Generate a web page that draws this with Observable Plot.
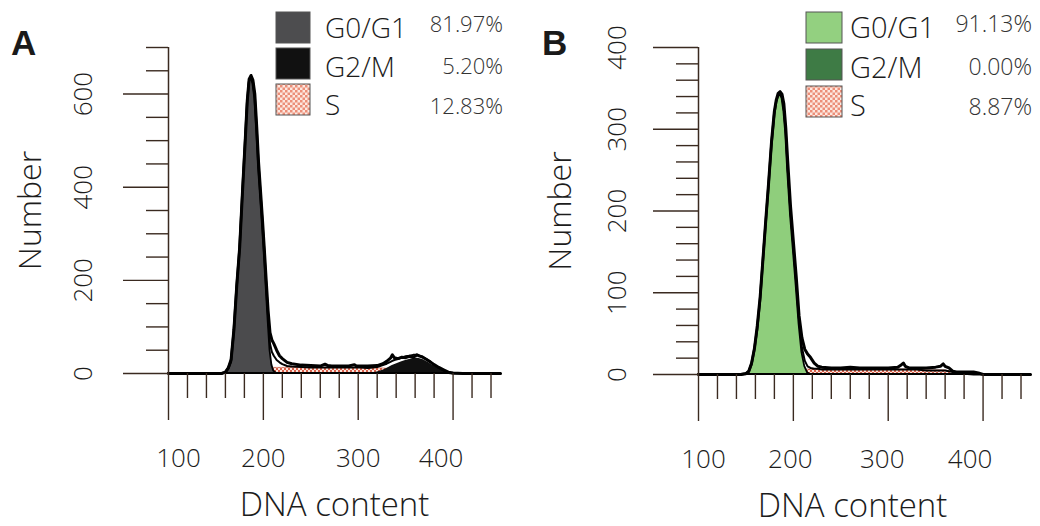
<!DOCTYPE html>
<html><head><meta charset="utf-8">
<script src="https://cdn.jsdelivr.net/npm/d3@7"></script>
<script src="https://cdn.jsdelivr.net/npm/@observablehq/plot@0.6"></script>
<style>
body{margin:0;background:#fff;}
#wrap{position:relative;width:1040px;height:526px;overflow:hidden;}
#wrap .panel{position:absolute;top:0;}
</style></head>
<body><div id="wrap"></div>
<script>
// ---------- data ----------
const phaseLabels = ["G0/G1", "G2/M", "S"];
const pctA = ["81.97%", "5.20%", "12.83%"];
const pctB = ["91.13%", "0.00%", "8.87%"];
const xTickMajor = [100, 200, 300, 400];
const xTickMinor = [120, 140, 160, 180, 220, 240, 260, 280, 320, 340, 360, 380, 420, 440];
const yTickMajorA = [0, 200, 400, 600];
const yTickMinorA = [50, 100, 150, 250, 300, 350, 450, 500, 550, 650, 700];
const yTickMajorB = [0, 100, 200, 300, 400];
const yTickMinorB = [20, 40, 60, 80, 120, 140, 160, 180, 220, 240, 260, 280, 320, 340, 360, 380];

// Panel A: DNA content channel and counts
const xsA  = [100,150,156,160,163,166,169,172,175,178,181,183,185,187,189,191,193,195,197,199,201,203,205,207,209,211,214,217,220,225,230,240,250,260,265,268,272,280,290,296,298,302,310,320,326,330,334,336,338,342,346,350,354,358,362,364,368,372,376,380,385,390,395,400,410,450];
const g1A  = [0,0,0,2,10,25,90,185,265,385,500,578,625,634,622,590,520,440,380,320,255,185,115,50,18,5,0,0,0,0,0,0,0,0,0,0,0,0,0,0,0,0,0,0,0,0,0,0,0,0,0,0,0,0,0,0,0,0,0,0,0,0,0,0,0,0];
const sA   = [0,0,0,0,0,0,0,0,0,1,2,3,4,5,6,7,8,8,9,10,10,11,11,11,12,12,12,12,12,12,12,12,12,12,12,12,12,12,12,12,12,12,11,11,11,10,10,10,10,9,9,9,8,8,7,7,6,5,4,3,2,1,0,0,0,0];
const g2A  = [0,0,0,0,0,0,0,0,0,0,0,0,0,0,0,0,0,0,0,0,0,0,0,0,0,0,0,0,0,0,0,0,0,0,0,0,0,0,0,0,0,0,0,3,7,11,15,17,19,22,25,28,30,32,33,32,30,26,21,16,10,5,1,0,0,0];
const fitA = [0,0,0,2,10,25,90,185,265,386,502,581,629,639,628,597,528,448,389,330,265,196,126,64,46,38,29,24,20,16,15,14,13,13,13,13,13,13,13,13,13,13,12,14,18,21,25,27,29,31,34,37,38,40,40,39,36,31,25,19,12,6,1,0,0,0];
const datA = [0,0,0,3,12,30,95,190,270,390,505,585,632,640,630,600,530,452,392,332,268,200,135,88,72,64,50,38,32,24,21,18,17,16,20,17,16,16,16,19,16,16,16,17,21,26,33,40,34,32,35,34,37,35,40,38,35,30,25,19,13,8,3,1,0,0];

// Panel B
const xsB  = [100,145,150,153,156,159,162,165,168,171,174,177,180,182,184,186,188,190,192,194,197,200,203,206,209,212,215,218,222,226,230,240,250,260,270,280,290,300,310,314,316,318,322,330,340,350,355,358,360,364,368,372,380,390,395,400,450];
const g1B  = [0,0,1,3,12,30,55,90,138,185,231,280,318,332,340,342,338,322,295,250,195,152,108,62,27,10,2,0,0,0,0,0,0,0,0,0,0,0,0,0,0,0,0,0,0,0,0,0,0,0,0,0,0,0,0,0,0];
const sB   = [0,0,0,0,0,0,0,0,0,0,0,0,0,0,1,1,2,2,3,3,4,5,5,5,5,6,6,6,6,6,6,6,6,6,6,6,6,6,6,6,6,6,6,6,5,5,5,5,5,4,3,2,1,0,0,0,0];
const g2B  = [0,0,0,0,0,0,0,0,0,0,0,0,0,0,0,0,0,0,0,0,0,0,0,0,0,0,0,0,0,0,0,0,0,0,0,0,0,0,0,0,0,0,0,0,0,0,0,0,0,0,0,0,0,0,0,0,0];
const fitB = [0,0,1,3,12,30,55,90,138,185,231,280,318,333,341,343,340,324,298,253,199,157,113,67,33,17,10,8,7,7,6,6,6,6,6,6,6,6,6,6,6,6,6,6,5,5,5,5,5,4,3,2,1,0,0,0,0];
const datB = [0,0,1,4,14,32,60,95,142,190,236,285,322,336,344,346,343,331,302,262,206,163,120,72,45,31,25,21,14,10,9,8,8,9,8,8,8,8,9,12,14,10,8,8,8,9,10,13,10,8,4,3,3,3,2,0,0];

// ---------- drawing ----------
const INK = "#1c1c1c";
const TICK = "#3a2a20";
const FONT = "'Open Sans', sans-serif";

function panel(cfg) {
  const rows = cfg.xs.map((x, i) => ({x, g1: cfg.g1[i], s: cfg.s[i], g2: cfg.g2[i], fit: cfg.fit[i], dat: cfg.dat[i]}));
  const defs = () => {
    const g = d3.create("svg:g");
    const p = g.append("defs").append("pattern").attr("id", cfg.id + "pat")
      .attr("patternUnits", "userSpaceOnUse").attr("width", 4).attr("height", 4);
    p.append("rect").attr("width", 4).attr("height", 4).attr("fill", "#fbe4dc");
    p.append("rect").attr("width", 2).attr("height", 2).attr("fill", "#d8604a");
    p.append("rect").attr("x", 2).attr("y", 2).attr("width", 2).attr("height", 2).attr("fill", "#d8604a");
    return g.node();
  };
  const xLabels = xTickMajor.map((v, i) => Plot.text([v], {
    x: d => d, text: d => String(d), frameAnchor: "bottom", dy: 93, dx: cfg.xlabDx[i],
    fontSize: 26, fill: INK, fontWeight: 300
  }));
  return Plot.plot({
    width: 520, height: 526,
    marginLeft: cfg.ml, marginRight: cfg.mr, marginTop: 47, marginBottom: cfg.mb,
    x: {domain: [100, 450], axis: null},
    y: {domain: [0, cfg.ymax], axis: null},
    style: {fontFamily: FONT, background: "transparent", overflow: "visible"},
    marks: [
      defs,
      Plot.areaY(rows, {x: "x", y: "s", fill: `url(#${cfg.id}pat)`, stroke: "#c0503a", strokeWidth: 0.6}),
      Plot.areaY(rows, {x: "x", y: "g2", fill: cfg.g2Color}),
      Plot.areaY(rows, {x: "x", y: "g1", fill: cfg.g1Color, stroke: "#000", strokeWidth: 1.8}),
      Plot.lineY(rows, {x: "x", y: "fit", stroke: "#000", strokeWidth: 2}),
      Plot.lineY(rows, {x: "x", y: "dat", stroke: "#000", strokeWidth: 3}),
      Plot.ruleX([100], {stroke: TICK, strokeWidth: 1.5}),
      Plot.axisY(cfg.yMajor, {anchor: "left", tickSize: 45, tickFormat: () => "", label: null, stroke: TICK, strokeWidth: 1.4}),
      Plot.axisY(cfg.yMinor, {anchor: "left", tickSize: 22, tickFormat: () => "", label: null, stroke: TICK, strokeWidth: 1.4}),
      Plot.axisX(xTickMajor, {anchor: "bottom", tickSize: 47, tickFormat: () => "", label: null, stroke: TICK, strokeWidth: 1.4}),
      Plot.axisX(xTickMinor, {anchor: "bottom", tickSize: 25, tickFormat: () => "", label: null, stroke: TICK, strokeWidth: 1.4}),
      Plot.text(cfg.yMajor, {y: d => d, text: d => String(d), frameAnchor: "left", textAnchor: "middle", dx: cfg.ylabDx, rotate: -90, fontSize: 26, fill: INK, fontWeight: 300}),
      ...xLabels,
      Plot.text(["DNA content"], {text: d => d, frameAnchor: "bottom", dy: 142, dx: cfg.titleDx, fontSize: 33, fill: INK, fontWeight: 300}),
      Plot.text(["Number"], {text: d => d, frameAnchor: "left", textAnchor: "middle", dx: -138, rotate: -90, fontSize: 32, fill: INK, fontWeight: 300})
    ]
  });
}

const wrap = document.getElementById("wrap");
const pA = panel({id: "a", xs: xsA, g1: g1A, s: sA, g2: g2A, fit: fitA, dat: datA, ymax: 700,
  yMajor: yTickMajorA, yMinor: yTickMinorA, ml: 168, mr: 20, mb: 153, ylabDx: -85,
  xlabDx: [10, 0, 0, -12], titleDx: 0, g1Color: "#4b4b4d", g2Color: "#101010"});
pA.classList.add("panel"); pA.style.left = "0px";
wrap.appendChild(pA);
const pB = panel({id: "b", xs: xsB, g1: g1B, s: sB, g2: g2B, fit: fitB, dat: datB, ymax: 400,
  yMajor: yTickMajorB, yMinor: yTickMinorB, ml: 178, mr: 10, mb: 152, ylabDx: -81,
  xlabDx: [5, -3, -6, -13], titleDx: -12, g1Color: "#8fce7c", g2Color: "#3e7b45"});
pB.classList.add("panel"); pB.style.left = "520px";
wrap.appendChild(pB);

// ---------- legend & panel letters overlay ----------
const ov = d3.select("#wrap").append("svg").attr("width", 1040).attr("height", 526)
  .style("position", "absolute").style("left", 0).style("top", 0).style("font-family", FONT);
const pd = ov.append("defs").append("pattern").attr("id", "legpat")
  .attr("patternUnits", "userSpaceOnUse").attr("width", 5).attr("height", 5);
pd.append("rect").attr("width", 5).attr("height", 5).attr("fill", "#fde8e0");
pd.append("rect").attr("width", 2.5).attr("height", 2.5).attr("fill", "#ec8e78");
pd.append("rect").attr("x", 2.5).attr("y", 2.5).attr("width", 2.5).attr("height", 2.5).attr("fill", "#ec8e78");

function legend(L) {
  phaseLabels.forEach((lab, i) => {
    ov.append("rect").attr("x", L.sx).attr("y", L.sy[i]).attr("width", L.sw).attr("height", 31)
      .attr("fill", L.fills[i]).attr("stroke", "#555").attr("stroke-width", 1);
    ov.append("text").attr("x", L.tx).attr("y", L.ty[i]).attr("font-size", L.fs).attr("font-weight", 300)
      .attr("fill", INK).text(lab);
    ov.append("text").attr("x", L.px).attr("y", L.py[i]).attr("font-size", L.pfs).attr("font-weight", 300)
      .attr("text-anchor", "end").attr("fill", "#333").text(L.pct[i]);
  });
  ov.append("text").attr("x", L.lx).attr("y", 55).attr("font-size", 35).attr("font-weight", 700)
    .attr("font-family", "'Liberation Sans', Arial, sans-serif").attr("fill", "#1a1a1a").text(L.letter);
}
legend({letter: "A", lx: 11, sx: 276, sw: 34, sy: [12, 48, 84], tx: 325, ty: [38, 77, 115], fs: 28,
  px: 503, py: [32, 74, 114], pfs: 22, pct: pctA, fills: ["#4d4d4f", "#111111", "url(#legpat)"]});
legend({letter: "B", lx: 542, sx: 806, sw: 36, sy: [12, 49, 86], tx: 850, ty: [38, 78, 116], fs: 29,
  px: 1032, py: [32, 75, 115], pfs: 23, pct: pctB, fills: ["#93d080", "#3e7b45", "url(#legpat)"]});
</script>
</body></html>
